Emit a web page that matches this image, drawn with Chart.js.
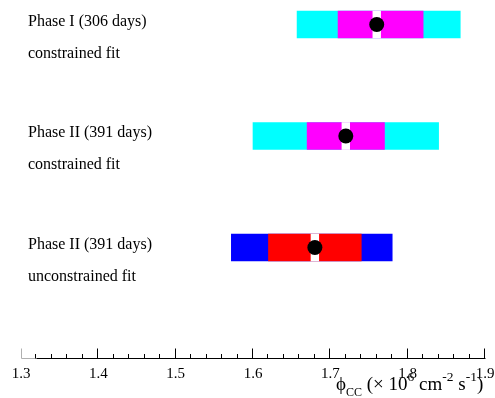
<!DOCTYPE html>
<html>
<head>
<meta charset="utf-8">
<script src="https://cdn.jsdelivr.net/npm/chart.js@4.4.0/dist/chart.umd.min.js"></script>
<style>
html,body{margin:0;padding:0;background:#fff;}
#wrap{width:495px;height:398px;position:relative;}
</style>
</head>
<body>
<div id="wrap"><canvas id="c" width="495" height="398"></canvas></div>
<script>
// ---- data ----
const rows = [3, 2, 1];
const rowTitles = ['Phase I (306 days)', 'Phase II (391 days)', 'Phase II (391 days)'];
const rowSubtitles = ['constrained fit', 'constrained fit', 'unconstrained fit'];
const central = [1.76, 1.72, 1.68];
const statLow = [1.71, 1.67, 1.62];
const statHigh = [1.82, 1.77, 1.74];
const totalLow = [1.657, 1.60, 1.572];
const totalHigh = [1.868, 1.84, 1.78];
const xTickValues = [1.3, 1.4, 1.5, 1.6, 1.7, 1.8, 1.9];
const xMinorStep = 0.02;

// ---- styles ----
const outerColors = ['#00ffff', '#00ffff', '#0000ff'];
const innerColors = ['#ff00ff', '#ff00ff', '#ff0000'];
const gapHalf = 0.005;
const SERIF = '"Liberation Serif", "DejaVu Serif", serif';

const barCommon = {
  type: 'bar', indexAxis: 'y', grouped: false, barThickness: 27,
  borderWidth: 0, borderSkipped: false
};

const datasets = [
  { type: 'scatter', order: 0,
    data: rows.map((r, i) => ({ x: central[i], y: r })),
    backgroundColor: '#000', borderWidth: 0, pointRadius: 7.5 },
  Object.assign({}, barCommon, { order: 1,
    data: rows.map((r, i) => ({ x: [central[i] - gapHalf, central[i] + gapHalf], y: r })),
    backgroundColor: '#ffffff' }),
  Object.assign({}, barCommon, { order: 2,
    data: rows.map((r, i) => ({ x: [statLow[i], statHigh[i]], y: r })),
    backgroundColor: innerColors }),
  Object.assign({}, barCommon, { order: 3,
    data: rows.map((r, i) => ({ x: [totalLow[i], totalHigh[i]], y: r })),
    backgroundColor: outerColors })
];

const decor = {
  id: 'decor',
  afterDraw(chart) {
    const ctx = chart.ctx;
    const xs = chart.scales.x, ys = chart.scales.y;
    const a = chart.chartArea;
    const yAxis = Math.round(a.bottom) - 0.5;
    ctx.save();
    // axis line
    ctx.lineWidth = 1;
    const x0 = xs.getPixelForValue(1.3), x1 = xs.getPixelForValue(1.32);
    ctx.strokeStyle = '#b0b0b0';
    ctx.beginPath();
    ctx.moveTo(Math.round(x0) + 0.5, yAxis - 10); ctx.lineTo(Math.round(x0) + 0.5, yAxis);
    ctx.lineTo(x1, yAxis); ctx.stroke();
    ctx.strokeStyle = '#000';
    ctx.beginPath();
    ctx.moveTo(x1, yAxis); ctx.lineTo(xs.getPixelForValue(1.9) + 0.5, yAxis);
    ctx.stroke();
    // ticks
    const n = Math.round((xs.max - xs.min) / xMinorStep);
    ctx.beginPath();
    for (let k = 1; k <= n; k++) {
      const v = xs.min + k * xMinorStep;
      const isMajor = k % 5 === 0;
      const px = Math.round(xs.getPixelForValue(v)) - 0.5;
      ctx.moveTo(px, yAxis);
      ctx.lineTo(px, yAxis - (isMajor ? 10 : 4.5));
    }
    ctx.stroke();
    // row labels
    ctx.fillStyle = '#000';
    ctx.font = '16px ' + SERIF;
    ctx.textAlign = 'left';
    ctx.textBaseline = 'alphabetic';
    rows.forEach((r, i) => {
      const py = ys.getPixelForValue(r);
      ctx.fillText(rowTitles[i], 28, py + 1);
      ctx.fillText(rowSubtitles[i], 28, py + 33);
    });
    // axis title
    const parts = [
      ['\u03D5', 19, 0], ['CC', 12, 6], [' (\u00D7 10', 19, 0], ['6', 13.5, -9],
      [' cm', 19, 0], ['-2', 13.5, -9], [' s', 19, 0], ['-1', 13.5, -9], [')', 19, 0]
    ];
    let tx = 336;
    const base = 390;
    parts.forEach(([t, s, dy]) => {
      ctx.font = s + 'px ' + SERIF;
      ctx.fillText(t, tx, base + dy);
      tx += ctx.measureText(t).width;
    });
    ctx.restore();
  }
};

new Chart(document.getElementById('c'), {
  type: 'bar',
  data: { datasets },
  options: {
    indexAxis: 'y',
    responsive: false,
    animation: false,
    layout: { autoPadding: false, padding: { left: 21, right: 10, top: 0, bottom: 0 } },
    plugins: { legend: { display: false }, tooltip: { enabled: false } },
    scales: {
      x: {
        type: 'linear', position: 'bottom', min: 1.3, max: 1.9, offset: false,
        grid: { display: false, drawTicks: false }, border: { display: false },
        afterBuildTicks(s) { s.ticks = xTickValues.map(v => ({ value: v })); },
        afterFit(s) { s.height = 39; s.paddingLeft = 0; s.paddingRight = 0; },
        ticks: { padding: 6, color: '#000', font: { family: SERIF, size: 15 },
          callback: v => Number(v).toFixed(1) }
      },
      y: { type: 'linear', display: false, min: 0, max: 3.22, offset: false,
        ticks: { display: false } }
    }
  },
  plugins: [decor]
});
</script>
</body>
</html>
